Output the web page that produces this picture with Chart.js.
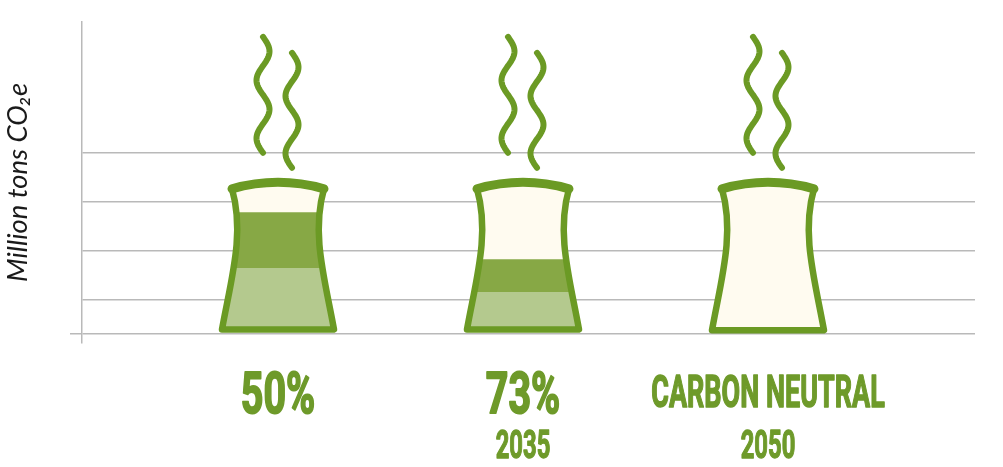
<!DOCTYPE html>
<html>
<head>
<meta charset="utf-8">
<script src="https://cdn.jsdelivr.net/npm/chart.js@4.4.1/dist/chart.umd.min.js"></script>
<style>
  html, body { margin: 0; padding: 0; background: #ffffff; }
  #wrap { width: 1003px; height: 467px; position: relative; }
</style>
</head>
<body>
<div id="wrap"><canvas id="c"></canvas></div>
<script>
// ---- data ----
const categories = ['50%', '73%', 'CARBON NEUTRAL'];
const years = ['', '2035', '2050'];
const xPositions = [1, 2, 3];
const lowerSeries = [13.4, 8.5, 0];      // light green band
const middleSeries = [11.4, 6.7, 0];     // dark green band
const remainingSeries = [7.0, 16.6, 31.8]; // empty (cream) part of tower
const gridTicks = [0, 7, 17, 27, 37];
const yTitle = 'Million tons CO\u2082e';

// ---- styles ----
const GREEN = '#6b9a24';
const TEXT_GREEN = '#6e9a2a';
const DARK_FILL = '#87a845';
const LIGHT_FILL = '#b4c98e';
const CREAM = '#fffbf0';
const GRID = '#b9b9b9';

function towers(chart) {
  const m0 = chart.getDatasetMeta(0);
  const m2 = chart.getDatasetMeta(2);
  return m2.data.map((el, i) => ({ cx: el.x, top: el.y, base: m0.data[i].base }));
}
function towerPath(ctx, t) {
  const cx = t.cx, by = t.base - 3.5, ty = t.top + 11;
  ctx.moveTo(cx - 56, by);
  ctx.bezierCurveTo(cx - 47, by - 50, cx - 33, ty + 45, cx - 46, ty);
  ctx.quadraticCurveTo(cx, t.top - 2, cx + 46, ty);
  ctx.bezierCurveTo(cx + 33, ty + 45, cx + 47, by - 50, cx + 56, by);
  ctx.closePath();
}
function wave(ctx, xc, y0, y1, amp, half) {
  ctx.beginPath();
  for (let y = y0; y <= y1 + 0.01; y += 1) {
    const x = xc + amp * Math.sin(Math.PI * (y - y0) / half);
    if (y === y0) ctx.moveTo(x, y); else ctx.lineTo(x, y);
  }
  ctx.stroke();
}
function condensedText(ctx, text, x, y, size, sx) {
  ctx.save();
  ctx.translate(x, y);
  ctx.scale(sx, 1);
  ctx.font = '700 ' + size + 'px Roboto';
  ctx.lineJoin = 'round';
  ctx.lineWidth = size / 30;
  ctx.fillText(text, 0, 0);
  ctx.strokeText(text, 0, 0);
  ctx.restore();
}

const towerPlugin = {
  id: 'towers',
  beforeDatasetsDraw(chart) {
    const ctx = chart.ctx;
    const ts = towers(chart);
    ctx.save();
    ctx.beginPath();
    ts.forEach(t => towerPath(ctx, t));
    ctx.clip();
  },
  afterDatasetsDraw(chart) {
    const ctx = chart.ctx;
    ctx.restore();
    const ts = towers(chart);
    ctx.save();
    ctx.strokeStyle = GREEN;
    ctx.lineJoin = 'round';
    ctx.lineCap = 'round';
    ts.forEach(t => {
      ctx.lineWidth = 6.5;
      ctx.beginPath();
      towerPath(ctx, t);
      ctx.stroke();
      // thicker rim
      ctx.lineWidth = 9;
      ctx.beginPath();
      ctx.moveTo(t.cx - 46, t.top + 11);
      ctx.quadraticCurveTo(t.cx, t.top - 2, t.cx + 46, t.top + 11);
      ctx.stroke();
      // steam
      ctx.lineWidth = 6;
      wave(ctx, t.cx - 15, t.top - 141, t.top - 25, 6.5, 29);
      wave(ctx, t.cx + 14, t.top - 125, t.top - 10, 6.5, 28.75);
    });
    ctx.restore();
  },
  afterDraw(chart) {
    const ctx = chart.ctx;
    const xs = chart.scales.x;
    const bottom = chart.chartArea.bottom;
    ctx.save();
    ctx.fillStyle = TEXT_GREEN;
    ctx.strokeStyle = TEXT_GREEN;
    ctx.textAlign = 'center';
    ctx.textBaseline = 'alphabetic';
    categories.forEach((c, i) => {
      const x = xs.getPixelForValue(xPositions[i]);
      if (c.length > 4) condensedText(ctx, c, x, bottom + 64, 45, 0.6);
      else condensedText(ctx, c, x, bottom + 70, 58, 0.68);
      if (years[i]) condensedText(ctx, years[i], x, bottom + 115, 39, 0.61);
    });
    ctx.restore();
  }
};

const mk = (label, data, color) => ({
  label,
  data: data.map((v, i) => ({ x: xPositions[i], y: v })),
  backgroundColor: color,
  borderWidth: 0,
  barThickness: 130,
  inflateAmount: 0
});

new Chart(document.getElementById('c'), {
  type: 'bar',
  data: {
    datasets: [
      mk('Lower', lowerSeries, LIGHT_FILL),
      mk('Middle', middleSeries, DARK_FILL),
      mk('Remaining', remainingSeries, CREAM)
    ]
  },
  options: {
    responsive: true,
    maintainAspectRatio: false,
    animation: false,
    layout: { padding: { top: 22, right: 28, bottom: 124, left: 0 } },
    plugins: { legend: { display: false }, tooltip: { enabled: false } },
    scales: {
      x: {
        type: 'linear',
        min: 0.2,
        max: 3.845,
        offset: false,
        stacked: true,
        display: false
      },
      y: {
        stacked: true,
        min: -1.9,
        max: 63.6,
        afterBuildTicks(scale) { scale.ticks = gridTicks.map(v => ({ value: v })); },
        ticks: { display: false },
        grid: {
          color: GRID,
          lineWidth: 1.5,
          drawTicks: true,
          tickLength: 12,
          tickColor: (ctx) => (ctx.tick && ctx.tick.value === 0 ? GRID : 'rgba(0,0,0,0)')
        },
        border: { display: true, color: GRID, width: 1.5 },
        title: {
          display: true,
          text: yTitle,
          color: '#1a1a1a',
          font: { family: 'Lato', style: 'italic', size: 27.5 },
          padding: { top: 1.5, bottom: 35.5 }
        }
      }
    }
  },
  plugins: [towerPlugin]
});
</script>
</body>
</html>
